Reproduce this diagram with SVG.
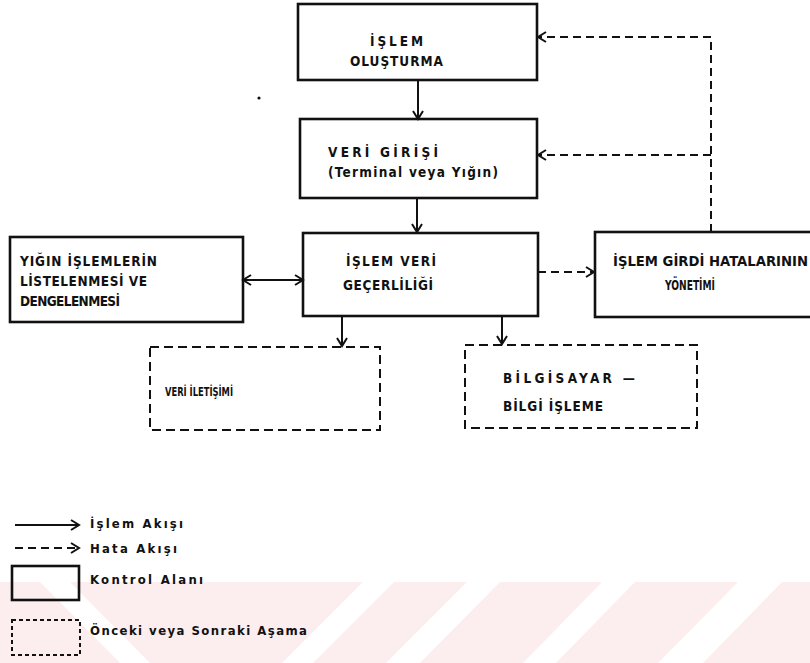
<svg xmlns="http://www.w3.org/2000/svg" width="810" height="663" viewBox="0 0 810 663">
<defs>
<style>
.box{fill:none;stroke:#111;stroke-width:2.6}
.dbox{fill:none;stroke:#111;stroke-width:2;stroke-dasharray:9 5}
.ldbox{fill:none;stroke:#111;stroke-width:2;stroke-dasharray:4 3}
.flow{fill:none;stroke:#111;stroke-width:2}
.err{fill:none;stroke:#111;stroke-width:2;stroke-dasharray:8 5}
text{font-family:"DejaVu Sans Condensed","DejaVu Sans",sans-serif;font-weight:bold;font-size:13.5px;fill:#111}
.lg{font-size:13px}
.wm{fill:#fcedef}
</style>
<marker id="ah" viewBox="-1 -6 11 12" refX="8" refY="0" markerWidth="11" markerHeight="12" markerUnits="userSpaceOnUse" orient="auto-start-reverse">
<path d="M0,-5 L8,0 L0,5" fill="none" stroke="#111" stroke-width="2"/>
</marker>
</defs>
<g id="watermark">
<rect class="wm" x="0" y="582" width="810" height="81"/>
<polygon fill="#fff" points="40,582 70,582 150,663 120,663"/>
<polygon fill="#fff" points="363,582 394,582 313,663 282,663"/>
<polygon fill="#fff" points="467,582 500,582 420,663 386,663"/>
<polygon fill="#fff" points="602,582 635,582 556,663 523,663"/>
<polygon fill="#fff" points="738,582 782,582 703,663 658,663"/>
</g>
<g id="connectors">
<line class="flow" x1="418" y1="80" x2="418" y2="119" marker-end="url(#ah)"/>
<line class="flow" x1="417" y1="198" x2="417" y2="232" marker-end="url(#ah)"/>
<line class="flow" x1="243" y1="280" x2="303" y2="280" marker-start="url(#ah)" marker-end="url(#ah)"/>
<line class="flow" x1="342" y1="316" x2="342" y2="346" marker-end="url(#ah)"/>
<line class="flow" x1="502" y1="316" x2="502" y2="344" marker-end="url(#ah)"/>
<line class="err" x1="538" y1="272" x2="594" y2="272" marker-end="url(#ah)"/>
<path class="err" d="M711,232 V37 H538" marker-end="url(#ah)"/>
<line class="err" x1="711" y1="155" x2="538" y2="155" marker-end="url(#ah)"/>
</g>
<g id="islem-olusturma">
<rect class="box" x="298" y="4" width="239" height="76"/>
<text x="370" y="46" textLength="53" lengthAdjust="spacing">İŞLEM</text>
<text x="350" y="66" textLength="93" lengthAdjust="spacing">OLUŞTURMA</text>
</g>
<g id="veri-girisi">
<rect class="box" x="300" y="119" width="237" height="79"/>
<text x="328" y="157" textLength="110" lengthAdjust="spacing">VERİ GİRİŞİ</text>
<text x="328" y="177" textLength="170" lengthAdjust="spacing">(Terminal veya Yığın)</text>
</g>
<g id="yigin-islemler">
<rect class="box" x="10" y="237" width="233" height="85"/>
<text x="20" y="266" textLength="137" lengthAdjust="spacing">YIĞIN İŞLEMLERİN</text>
<text x="20" y="286" textLength="127" lengthAdjust="spacing">LİSTELENMESİ VE</text>
<text x="20" y="306" textLength="100" lengthAdjust="spacing">DENGELENMESİ</text>
</g>
<g id="islem-veri-gecerliligi">
<rect class="box" x="303" y="233" width="235" height="83"/>
<text x="346" y="266" textLength="90" lengthAdjust="spacing">İŞLEM VERİ</text>
<text x="343" y="290" textLength="90" lengthAdjust="spacing">GEÇERLİLİĞİ</text>
</g>
<g id="hata-yonetimi">
<rect class="box" x="595" y="232" width="230" height="85"/>
<text x="613" y="266" textLength="195" lengthAdjust="spacingAndGlyphs">İŞLEM GİRDİ HATALARININ</text>
<text x="665" y="290" textLength="50" lengthAdjust="spacingAndGlyphs">YÖNETİMİ</text>
</g>
<g id="veri-iletisimi">
<rect class="dbox" x="150" y="347" width="230" height="83"/>
<text x="165" y="396" textLength="68" lengthAdjust="spacingAndGlyphs" style="font-size:12.5px">VERİ  İLETİŞİMİ</text>
</g>
<g id="bilgisayar">
<rect class="dbox" x="465" y="345" width="232" height="83"/>
<text x="503" y="383" textLength="132" lengthAdjust="spacing">BİLGİSAYAR —</text>
<text x="503" y="411" textLength="100" lengthAdjust="spacing">BİLGİ İŞLEME</text>
</g>
<circle cx="259" cy="98" r="1.6" fill="#111"/>
<g id="legend">
<line class="flow" x1="15" y1="525" x2="79" y2="525" marker-end="url(#ah)"/>
<text class="lg" x="90" y="528" textLength="93" lengthAdjust="spacing">İşlem Akışı</text>
<line class="err" x1="15" y1="548" x2="79" y2="548" stroke-dasharray="6 4" marker-end="url(#ah)"/>
<text class="lg" x="90" y="553" textLength="87" lengthAdjust="spacing">Hata Akışı</text>
<rect class="box" x="12" y="566" width="67" height="34" stroke-width="2.2"/>
<text class="lg" x="90" y="584" textLength="113" lengthAdjust="spacing">Kontrol Alanı</text>
<rect class="ldbox" x="12" y="620" width="68" height="35"/>
<text class="lg" x="90" y="635" textLength="217" lengthAdjust="spacing">Önceki veya Sonraki Aşama</text>
</g>
</svg>
